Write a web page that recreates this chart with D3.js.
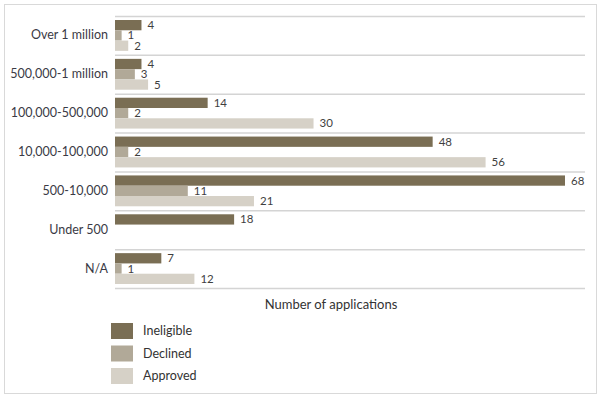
<!DOCTYPE html>
<html>
<head>
<meta charset="utf-8">
<script src="https://cdn.jsdelivr.net/npm/d3@7"></script>
<style>
  body { margin: 0; background: #fff; }
  svg text { font-family: Lato, "Open Sans", sans-serif; }
</style>
</head>
<body>
<div class="container"></div>
<script>
const categories = ["Over 1 million", "500,000-1 million", "100,000-500,000", "10,000-100,000", "500-10,000", "Under 500", "N/A"];
const seriesNames = ["Ineligible", "Declined", "Approved"];
const ineligible = [4, 4, 14, 48, 68, 18, 7];
const declined = [1, 3, 2, 2, 11, null, 1];
const approved = [2, 5, 30, 56, 21, null, 12];
const colors = ["#7a6e54", "#b1a998", "#d6d1c7"];

const w = 600;
const h = 399;
const plotLeft = 115;
const plotRight = 585;
const plotTop = 16;
const plotBottom = 288;

const series = [ineligible, declined, approved];

const svg = d3.select(".container")
  .append("svg")
  .attr("width", w)
  .attr("height", h);

// outer frame
svg.append("rect")
  .attr("x", 4.5).attr("y", 4.5)
  .attr("width", 592).attr("height", 389)
  .attr("fill", "none")
  .attr("stroke", "#d9d9d9");

const xScale = d3.scaleLinear()
  .domain([0, 68])
  .range([plotLeft, 565]);

const yScale = d3.scaleBand()
  .domain(categories)
  .range([plotTop, plotBottom])
  .paddingInner(0)
  .paddingOuter(0);

const inner = d3.scaleBand()
  .domain(seriesNames)
  .range([4, yScale.bandwidth() - 4]);

// separators
svg.selectAll(".sep")
  .data(d3.range(categories.length + 1))
  .enter()
  .append("line")
  .attr("class", "sep")
  .attr("x1", plotLeft).attr("x2", plotRight)
  .attr("y1", i => plotTop + i * yScale.step() + 0.5)
  .attr("y2", i => plotTop + i * yScale.step() + 0.5)
  .attr("stroke", "#d4d4d4")
  .attr("stroke-width", 1.5);

// category labels
const yAxis = d3.axisLeft(yScale).tickSize(0).tickPadding(7);
svg.append("g")
  .attr("transform", `translate(${plotLeft},0)`)
  .call(yAxis)
  .call(g => g.select(".domain").remove())
  .selectAll("text")
  .attr("font-size", 12.5)
  .attr("fill", "#3a3a45");

const flat = [];
categories.forEach((c, i) => {
  series.forEach((s, j) => {
    if (s[i] != null) flat.push({ cat: c, name: seriesNames[j], value: s[i], j: j });
  });
});

const groups = svg.append("g");

groups.selectAll("rect")
  .data(flat)
  .enter()
  .append("rect")
  .attr("x", xScale(0))
  .attr("y", d => yScale(d.cat) + inner(d.name))
  .attr("width", d => xScale(d.value) - xScale(0))
  .attr("height", inner.bandwidth())
  .attr("fill", d => colors[d.j]);

groups.selectAll(".val")
  .data(flat)
  .enter()
  .append("text")
  .attr("class", "val")
  .attr("x", d => xScale(d.value) + 6)
  .attr("y", d => yScale(d.cat) + inner(d.name) + inner.bandwidth() / 2 + 4)
  .attr("font-size", 11.5)
  .attr("fill", "#3f3f3f")
  .text(d => d.value);

svg.append("text")
  .attr("x", 331)
  .attr("y", 309)
  .attr("text-anchor", "middle")
  .attr("font-size", 13)
  .attr("fill", "#333")
  .text("Number of applications");

const legend = svg.append("g");
legend.selectAll("rect")
  .data(seriesNames)
  .enter()
  .append("rect")
  .attr("x", 111)
  .attr("y", (d, i) => 323 + i * 22.5)
  .attr("width", 22)
  .attr("height", 16)
  .attr("fill", (d, i) => colors[i]);

legend.selectAll("text")
  .data(seriesNames)
  .enter()
  .append("text")
  .attr("x", 143)
  .attr("y", (d, i) => 335 + i * 22.5)
  .attr("font-size", 12.5)
  .attr("fill", "#333")
  .text(d => d);
</script>
</body>
</html>
